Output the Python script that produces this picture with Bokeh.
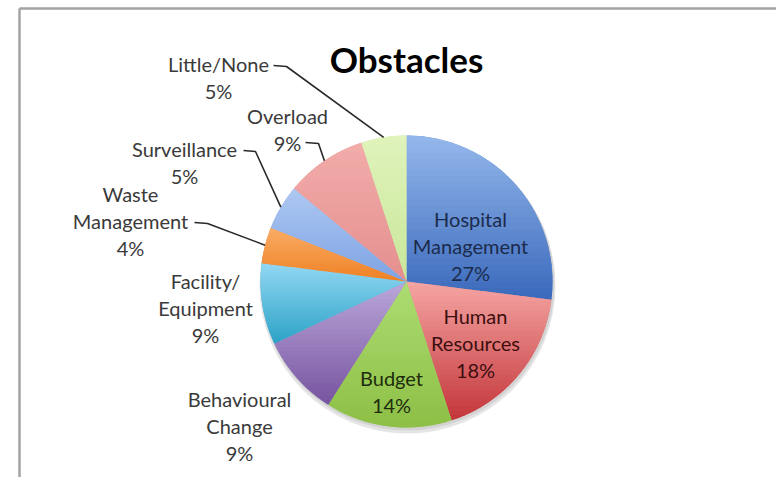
import math
from bokeh.plotting import figure
from bokeh.models import Range1d
from bokeh.core.properties import value
from bokeh.embed import file_html
from bokeh.resources import INLINE

# ---- data ----
categories = ["Hospital Management", "Human Resources", "Budget", "Behavioural Change",
              "Facility/ Equipment", "Waste Management", "Surveillance", "Overload", "Little/None"]
label_text = ["Hospital\nManagement", "Human\nResources", "Budget", "Behavioural\nChange",
              "Facility/\nEquipment", "Waste\nManagement", "Surveillance", "Overload", "Little/None"]
percents = [27, 18, 14, 9, 9, 4, 5, 9, 5]
title = "Obstacles"

# ---- style ----
top_colors = ["#95b8ec", "#f5a6a4", "#addb72", "#bba8da", "#93d8f3", "#faac66", "#aec8f1", "#f2adab", "#dff3bb"]
bot_colors = ["#3a69bb", "#c3353a", "#8dc046", "#7753a0", "#2ca2c6", "#ef8125", "#7ea3e4", "#e48f8e", "#c9e79a"]
mid_colors = ["#5f8cd6", "#e06b6c", "#9ccd5a", "#9a7fc0", "#5fbde0", "#f59545", "#97b5eb", "#eb9e9d", "#d5eeaa"]

W, H = 776, 477
def Y(ypx):
    return H - ypx

cx, cy, R = 406, Y(281), 146

p = figure(width=W, height=H, x_range=Range1d(0, W), y_range=Range1d(0, H),
           output_backend="svg", toolbar_location=None, min_border=0)
p.axis.visible = False
p.grid.visible = False
p.outline_line_color = None
p.background_fill_color = "white"
p.border_fill_color = "white"

# frame (cropped chart border: top and left edges)
p.segment(x0=[19, 19], y0=[Y(8), Y(8)], x1=[W + 5, 19], y1=[Y(8), -5], line_color="#a3a3a3", line_width=2.5)

# angles (clockwise from 12 o'clock)
total = sum(percents)
cum = [0]
for v in percents:
    cum.append(cum[-1] + v)
starts = [math.pi / 2 - 2 * math.pi * cum[i + 1] / total for i in range(len(percents))]
ends = [math.pi / 2 - 2 * math.pi * cum[i] / total for i in range(len(percents))]
mids = [(s + e) / 2 for s, e in zip(starts, ends)]

# soft shadow
p.circle(x=[cx + 1], y=[cy - 4], radius=R + 2, fill_color="#000000", fill_alpha=0.10, line_color=None)
p.circle(x=[cx + 1], y=[cy - 2], radius=R + 1, fill_color="#000000", fill_alpha=0.08, line_color=None)

# base wedges
p.wedge(x=cx, y=cy, radius=R, start_angle=starts, end_angle=ends, direction="anticlock",
        fill_color=mid_colors, line_color=None)

# gradient overlay per slice
def clip(poly, y0, y1):
    def clip_half(pts, keep, inter):
        out = []
        n = len(pts)
        for i in range(n):
            a, b = pts[i], pts[(i + 1) % n]
            ka, kb = keep(a), keep(b)
            if ka:
                out.append(a)
            if ka != kb:
                out.append(inter(a, b))
        return out
    def ix(a, b, yy):
        t = (yy - a[1]) / (b[1] - a[1])
        return (a[0] + t * (b[0] - a[0]), yy)
    pts = clip_half(poly, lambda q: q[1] >= y0, lambda a, b: ix(a, b, y0))
    if not pts:
        return pts
    pts = clip_half(pts, lambda q: q[1] <= y1, lambda a, b: ix(a, b, y1))
    return pts

def hex2rgb(h):
    h = h.lstrip("#")
    return [int(h[i:i + 2], 16) for i in (0, 2, 4)]

xs_all, ys_all, cols = [], [], []
NB = 28
for i in range(len(percents)):
    s, e = starts[i], ends[i]
    n = max(8, int(abs(e - s) * 60))
    poly = [(cx, cy)] + [(cx + R * math.cos(s + (e - s) * k / n), cy + R * math.sin(s + (e - s) * k / n)) for k in range(n + 1)]
    ymax = max(q[1] for q in poly)
    ymin = min(q[1] for q in poly)
    c0, c1 = hex2rgb(top_colors[i]), hex2rgb(bot_colors[i])
    for b in range(NB):
        y1 = ymax - (ymax - ymin) * b / NB
        y0 = ymax - (ymax - ymin) * (b + 1) / NB
        pts = clip(poly, y0 - 0.3, y1 + 0.3)
        if len(pts) < 3:
            continue
        t = (b + 0.5) / NB
        c = "#%02x%02x%02x" % tuple(int(round(c0[j] + (c1[j] - c0[j]) * t)) for j in range(3))
        xs_all.append([q[0] for q in pts])
        ys_all.append([q[1] for q in pts])
        cols.append(c)
p.patches(xs=xs_all, ys=ys_all, fill_color=cols, line_color=None)

FONT = value("Lato")
FS = "20px"

# inside labels
inside = {0: (470, 218, "#1b2b4c"), 1: (475, 315, "#3d0e0e"), 2: (391, 377, "#1e2c0c")}
for i, (lx, ly, col) in inside.items():
    lines = label_text[i].split("\n") + ["%d%%" % percents[i]]
    p.text(x=[lx] * len(lines), y=[Y(ly + 27 * k) for k in range(len(lines))], text=lines,
           text_font=FONT, text_font_size=FS, text_color=col, text_align="center", text_baseline="middle")

# outside labels
outside = {8: (218, 63), 7: (287, 115), 6: (184, 148), 5: (130, 193), 4: (205, 280), 3: (239, 398)}
for i, (lx, ly) in outside.items():
    lines = label_text[i].split("\n") + ["%d%%" % percents[i]]
    p.text(x=[lx] * len(lines), y=[Y(ly + 27 * k) for k in range(len(lines))], text=lines,
           text_font=FONT, text_font_size=FS, text_color="#3a3a3a", text_align="center", text_baseline="middle")

# leader lines: label elbow -> slice edge at mid angle
leader_start = {8: [(273, 65), (286, 66)], 7: [(305, 142), (318, 143)],
                6: [(243, 150), (255, 151)], 5: [(194, 222), (207, 223)]}
lx_list, ly_list = [], []
for i, pts in leader_start.items():
    ex = cx + R * math.cos(mids[i])
    ey = cy + R * math.sin(mids[i])
    lx_list.append([q[0] for q in pts] + [ex])
    ly_list.append([Y(q[1]) for q in pts] + [ey])
p.multi_line(xs=lx_list, ys=ly_list, line_color="#2a2a2a", line_width=1.6)

# title
p.text(x=[406], y=[Y(58)], text=[title], text_font=FONT, text_font_style="bold",
       text_font_size="35px", text_color="#000000", text_align="center", text_baseline="middle")

open("out.html", "w").write(file_html(p, INLINE))
